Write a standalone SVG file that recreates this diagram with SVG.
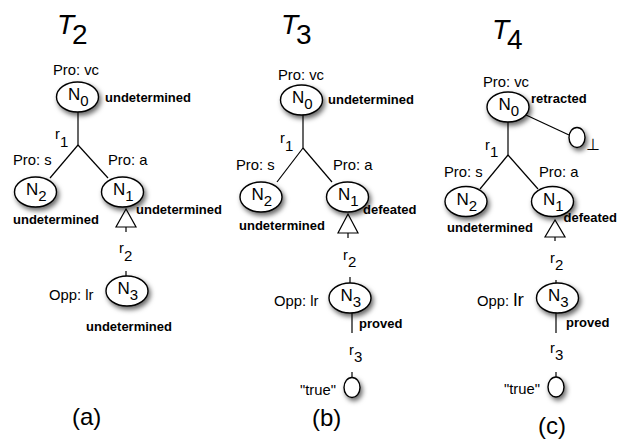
<svg xmlns="http://www.w3.org/2000/svg" width="618" height="445" viewBox="0 0 618 445">
  <defs>
    <filter id="shadow" x="-50%" y="-50%" width="200%" height="200%">
      <feDropShadow dx="2" dy="3" stdDeviation="2.4" flood-color="#000" flood-opacity="0.6"/>
    </filter>
  </defs>
  <style>
    text { font-family: "Liberation Sans", Arial, Helvetica, sans-serif; fill: #000; }
    .node { fill: #fff; stroke: #000; stroke-width: 1.4; filter: url(#shadow); }
    .edge { stroke: #000; stroke-width: 1.2; fill: none; }
    .tri { fill: #fff; stroke: #000; stroke-width: 1.2; }
    .lbl { font-size: 14.8px; }
    .st { font-size: 13px; font-weight: bold; }
    .nm { font-size: 17px; }
    .sub { font-size: 15px; }
    .rl { font-size: 14.5px; }
    .title { font-size: 28px; }
    .cap { font-size: 24px; }
  </style>

  <!-- panel titles -->
  <text class="title" x="57" y="34" font-style="italic">T</text>
  <text class="title" x="72" y="44">2</text>
  <text class="title" x="281" y="34" font-style="italic">T</text>
  <text class="title" x="296" y="44">3</text>
  <text class="title" x="492" y="39" font-style="italic">T</text>
  <text class="title" x="507" y="49">4</text>

  <!-- connectors -->
  <g id="connectors">
    <!-- tree a -->
    <line class="edge" x1="78" y1="112" x2="78" y2="145"/>
    <line class="edge" x1="78" y1="145" x2="50" y2="178"/>
    <line class="edge" x1="78" y1="145" x2="108" y2="178"/>
    <polygon class="tri" points="126,209 116,227 136,227"/>
    <line class="edge" x1="126" y1="227" x2="126" y2="232"/>
    <line class="edge" x1="126" y1="271" x2="126" y2="277"/>
    <!-- tree b -->
    <line class="edge" x1="303" y1="115" x2="303" y2="148"/>
    <line class="edge" x1="303" y1="148" x2="277" y2="182"/>
    <line class="edge" x1="303" y1="148" x2="332" y2="182"/>
    <polygon class="tri" points="348,214 338,233 358,233"/>
    <line class="edge" x1="348" y1="233" x2="348" y2="238"/>
    <line class="edge" x1="350" y1="277" x2="350" y2="283"/>
    <line class="edge" x1="352" y1="313" x2="352" y2="333"/>
    <line class="edge" x1="352" y1="372" x2="352" y2="378"/>
    <!-- tree c -->
    <line class="edge" x1="508" y1="122" x2="508" y2="155"/>
    <line class="edge" x1="526" y1="115" x2="569" y2="135"/>
    <line class="edge" x1="508" y1="155" x2="480" y2="189"/>
    <line class="edge" x1="508" y1="155" x2="538" y2="189"/>
    <polygon class="tri" points="555,220 545,237 565,237"/>
    <line class="edge" x1="555" y1="237" x2="555" y2="241"/>
    <line class="edge" x1="556" y1="280" x2="556" y2="285"/>
    <line class="edge" x1="556" y1="313" x2="556" y2="333"/>
    <line class="edge" x1="556" y1="372" x2="556" y2="377"/>
  </g>

  <!-- rule labels -->
  <g id="rules">
    <text class="rl" x="55" y="139">r<tspan class="sub" x="60" y="147">1</tspan></text>
    <text class="rl" x="119" y="253">r<tspan class="sub" x="124" y="261">2</tspan></text>
    <text class="rl" x="280" y="143">r<tspan class="sub" x="285" y="151">1</tspan></text>
    <text class="rl" x="343" y="260">r<tspan class="sub" x="348" y="267">2</tspan></text>
    <text class="rl" x="349" y="355">r<tspan class="sub" x="354" y="362">3</tspan></text>
    <text class="rl" x="485" y="150">r<tspan class="sub" x="490" y="157">1</tspan></text>
    <text class="rl" x="550" y="263">r<tspan class="sub" x="555" y="270">2</tspan></text>
    <text class="rl" x="550" y="353">r<tspan class="sub" x="555" y="360">3</tspan></text>
  </g>

  <!-- tree a nodes -->
  <g id="a-N0">
    <ellipse class="node" cx="77.5" cy="97" rx="21" ry="15"/>
    <text class="nm" x="68" y="100">N<tspan class="sub" y="106">0</tspan></text>
    <text class="lbl" x="76" y="75" text-anchor="middle">Pro: vc</text>
    <text class="st" x="105" y="102">undetermined</text>
  </g>
  <g id="a-N2">
    <ellipse class="node" cx="35.5" cy="192" rx="21" ry="15"/>
    <text class="nm" x="26" y="195">N<tspan class="sub" y="201">2</tspan></text>
    <text class="lbl" x="13" y="165">Pro: s</text>
    <text class="st" x="13" y="224">undetermined</text>
  </g>
  <g id="a-N1">
    <ellipse class="node" cx="122.5" cy="192" rx="21" ry="15"/>
    <text class="nm" x="113" y="195">N<tspan class="sub" y="201">1</tspan></text>
    <text class="lbl" x="108" y="165">Pro: a</text>
    <text class="st" x="136" y="214">undetermined</text>
  </g>
  <g id="a-N3">
    <ellipse class="node" cx="127" cy="291" rx="21" ry="15"/>
    <text class="nm" x="117.5" y="294">N<tspan class="sub" y="300">3</tspan></text>
    <text class="lbl" x="49" y="300">Opp: lr</text>
    <text class="st" x="86" y="331">undetermined</text>
  </g>
  <text class="cap" x="72" y="425">(a)</text>

  <!-- tree b nodes -->
  <g id="b-N0">
    <ellipse class="node" cx="301.5" cy="100" rx="21" ry="15"/>
    <text class="nm" x="292" y="103">N<tspan class="sub" y="109">0</tspan></text>
    <text class="lbl" x="301" y="80" text-anchor="middle">Pro: vc</text>
    <text class="st" x="328" y="104">undetermined</text>
  </g>
  <g id="b-N2">
    <ellipse class="node" cx="261" cy="197" rx="21" ry="15"/>
    <text class="nm" x="251.5" y="200">N<tspan class="sub" y="206">2</tspan></text>
    <text class="lbl" x="236" y="170">Pro: s</text>
    <text class="st" x="239" y="230">undetermined</text>
  </g>
  <g id="b-N1">
    <ellipse class="node" cx="347.5" cy="197" rx="21" ry="15"/>
    <text class="nm" x="338" y="200">N<tspan class="sub" y="206">1</tspan></text>
    <text class="lbl" x="333" y="170">Pro: a</text>
    <text class="st" x="363" y="214">defeated</text>
  </g>
  <g id="b-N3">
    <ellipse class="node" cx="350" cy="298" rx="21" ry="15"/>
    <text class="nm" x="340.5" y="301">N<tspan class="sub" y="307">3</tspan></text>
    <text class="lbl" x="274" y="306">Opp: lr</text>
    <text class="st" x="359" y="328">proved</text>
  </g>
  <g id="b-true">
    <ellipse class="node" cx="352" cy="387.5" rx="8" ry="10"/>
    <text class="lbl" x="300" y="395">"true"</text>
  </g>
  <text class="cap" x="312" y="426">(b)</text>

  <!-- tree c nodes -->
  <g id="c-N0">
    <ellipse class="node" cx="508" cy="107" rx="21" ry="15"/>
    <text class="nm" x="498.5" y="110">N<tspan class="sub" y="116">0</tspan></text>
    <text class="lbl" x="506" y="87" text-anchor="middle">Pro: vc</text>
    <text class="st" x="531" y="103">retracted</text>
  </g>
  <g id="c-bottom">
    <ellipse class="node" cx="577" cy="137.5" rx="8" ry="10"/>
    <text x="586" y="150" font-family="'DejaVu Sans', sans-serif" font-size="16">⊥</text>
  </g>
  <g id="c-N2">
    <ellipse class="node" cx="466" cy="201.5" rx="21" ry="15"/>
    <text class="nm" x="456.5" y="204.5">N<tspan class="sub" y="210.5">2</tspan></text>
    <text class="lbl" x="444" y="177">Pro: s</text>
    <text class="st" x="447" y="232">undetermined</text>
  </g>
  <g id="c-N1">
    <ellipse class="node" cx="552.5" cy="201.5" rx="21" ry="15"/>
    <text class="nm" x="543" y="204.5">N<tspan class="sub" y="210.5">1</tspan></text>
    <text class="lbl" x="539" y="177">Pro: a</text>
    <text class="st" x="563.5" y="222">defeated</text>
  </g>
  <g id="c-N3">
    <ellipse class="node" cx="557.5" cy="298" rx="21" ry="15"/>
    <text class="nm" x="548" y="301">N<tspan class="sub" y="307">3</tspan></text>
    <text class="lbl" x="477" y="306">Opp: <tspan font-size="19">lr</tspan></text>
    <text class="st" x="566" y="327">proved</text>
  </g>
  <g id="c-true">
    <ellipse class="node" cx="556" cy="387" rx="8" ry="10"/>
    <text class="lbl" x="504" y="394">"true"</text>
  </g>
  <text class="cap" x="538" y="434">(c)</text>
</svg>
